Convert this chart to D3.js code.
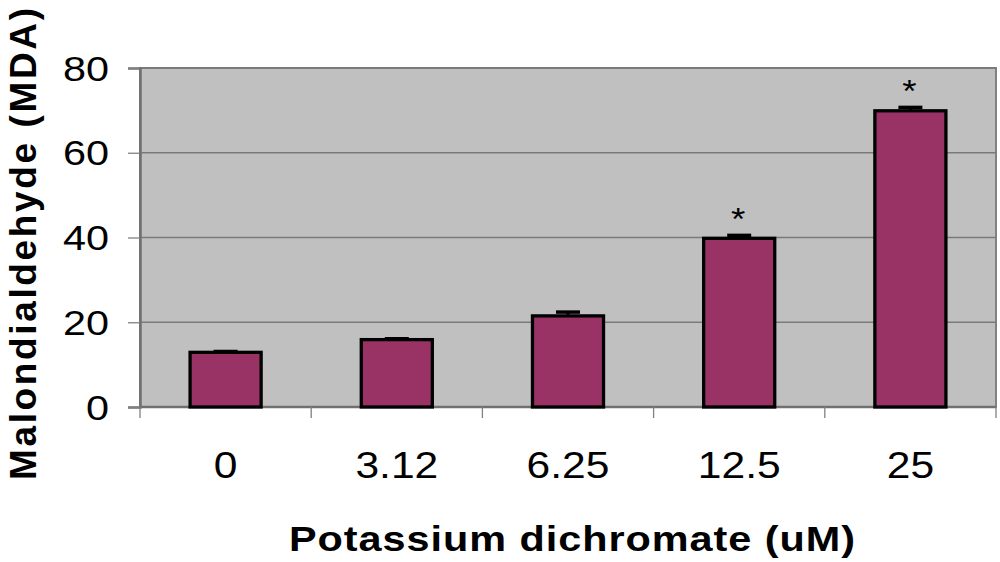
<!DOCTYPE html>
<html>
<head>
<meta charset="utf-8">
<script src="https://cdn.jsdelivr.net/npm/d3@7"></script>
<style>
  html, body { margin: 0; padding: 0; background: #fff; }
  svg { display: block; }
</style>
</head>
<body>
<script>
// ---- data ----
const categories = ["0", "3.12", "6.25", "12.5", "25"];
const mdaValues  = [12.9, 15.9, 21.5, 39.8, 69.9];
const mdaErrors  = [0.2, 0.2, 0.9, 0.7, 0.8];
const significant = [false, false, false, true, true];
const yTicks = [0, 20, 40, 60, 80];
const xTitle = "Potassium dichromate (uM)";
const yTitle = "Malondialdehyde (MDA)";

// ---- layout ----
const W = 1000, H = 562;
const SX = 1.15; // horizontal text stretch seen in the reference
const plot = { left: 140, right: 996, top: 68, bottom: 407 };

const svg = d3.select("body").append("svg").attr("width", W).attr("height", H);

const x = d3.scaleBand().domain(categories).range([plot.left, plot.right]).padding(0);
const y = d3.scaleLinear().domain([0, 80]).range([plot.bottom, plot.top]);

// plot background
svg.append("rect")
  .attr("x", plot.left).attr("y", plot.top)
  .attr("width", plot.right - plot.left).attr("height", plot.bottom - plot.top)
  .attr("fill", "#c0c0c0").attr("stroke", "#808080").attr("stroke-width", 2);

// gridlines
svg.append("g").selectAll("line").data(yTicks.filter(d => d > 0)).join("line")
  .attr("x1", plot.left).attr("x2", plot.right)
  .attr("y1", d => y(d)).attr("y2", d => y(d))
  .attr("stroke", "#7a7a7a").attr("stroke-width", 1.3);

// y axis
const yAxis = svg.append("g").attr("transform", `translate(${plot.left},0)`)
  .call(d3.axisLeft(y).tickValues(yTicks).tickSize(12).tickFormat(""));
yAxis.select(".domain").attr("stroke", "#707070").attr("stroke-width", 2.5);
yAxis.selectAll(".tick line").attr("stroke", "#808080").attr("stroke-width", 1.3);

// y tick labels
svg.append("g").selectAll("text").data(yTicks).join("text")
  .attr("transform", d => `translate(109,${y(d) + 12.7}) scale(${SX},1)`)
  .attr("text-anchor", "end")
  .attr("font-family", "Liberation Sans, Arial, sans-serif")
  .attr("font-size", 36)
  .attr("fill", "#000")
  .text(d => d);

// x axis
const boundaries = categories.map(c => x(c)).concat([plot.right]);
svg.append("line")
  .attr("x1", plot.left).attr("x2", plot.right)
  .attr("y1", plot.bottom).attr("y2", plot.bottom)
  .attr("stroke", "#707070").attr("stroke-width", 2.5);
svg.append("g").selectAll("line").data(boundaries).join("line")
  .attr("x1", d => d).attr("x2", d => d)
  .attr("y1", plot.bottom).attr("y2", plot.bottom + 11)
  .attr("stroke", "#808080").attr("stroke-width", 1.3);

// x tick labels
svg.append("g").selectAll("text").data(categories).join("text")
  .attr("transform", d => `translate(${x(d) + x.bandwidth() / 2},478.3) scale(${SX},1)`)
  .attr("text-anchor", "middle")
  .attr("font-family", "Liberation Sans, Arial, sans-serif")
  .attr("font-size", 37)
  .attr("fill", "#000")
  .text(d => d);

// bars
const bw = x.bandwidth() * 0.415;
const rows = categories.map((c, i) => ({ c, v: mdaValues[i], e: mdaErrors[i], s: significant[i] }));

svg.append("g").selectAll("rect").data(rows).join("rect")
  .attr("x", d => x(d.c) + (x.bandwidth() - bw) / 2)
  .attr("y", d => y(d.v))
  .attr("width", bw)
  .attr("height", d => y(0) - y(d.v))
  .attr("fill", "#993366")
  .attr("stroke", "#000")
  .attr("stroke-width", 3.3);

// error bars (upper)
const eb = svg.append("g");
eb.selectAll("line.v").data(rows).join("line").attr("class", "v")
  .attr("x1", d => x(d.c) + x.bandwidth() / 2).attr("x2", d => x(d.c) + x.bandwidth() / 2)
  .attr("y1", d => y(d.v)).attr("y2", d => y(d.v + d.e))
  .attr("stroke", "#000").attr("stroke-width", 3);
eb.selectAll("line.c").data(rows).join("line").attr("class", "c")
  .attr("x1", d => x(d.c) + x.bandwidth() / 2 - 12).attr("x2", d => x(d.c) + x.bandwidth() / 2 + 12)
  .attr("y1", d => y(d.v + d.e)).attr("y2", d => y(d.v + d.e))
  .attr("stroke", "#000").attr("stroke-width", 3.5);

// significance markers
svg.append("g").selectAll("text").data(rows.filter(d => d.s)).join("text")
  .attr("transform", d => `translate(${x(d.c) + x.bandwidth() / 2 - 1},${y(d.v + d.e) - 5}) scale(${SX},1)`)
  .attr("text-anchor", "middle")
  .attr("font-family", "Liberation Sans, Arial, sans-serif")
  .attr("font-size", 32)
  .attr("fill", "#000")
  .text("*");

// axis titles
svg.append("text")
  .attr("transform", `translate(572,551) scale(${SX},1)`)
  .attr("text-anchor", "middle")
  .attr("font-family", "Liberation Sans, Arial, sans-serif")
  .attr("font-weight", "bold")
  .attr("font-size", 36)
  .attr("textLength", 566 / SX)
  .attr("lengthAdjust", "spacing")
  .attr("fill", "#000")
  .text(xTitle);

svg.append("text")
  .attr("transform", `translate(36,244) rotate(-90)`)
  .attr("text-anchor", "middle")
  .attr("font-family", "Liberation Sans, Arial, sans-serif")
  .attr("font-weight", "bold")
  .attr("font-size", 37)
  .attr("textLength", 472)
  .attr("lengthAdjust", "spacing")
  .attr("fill", "#000")
  .text(yTitle);
</script>
</body>
</html>
